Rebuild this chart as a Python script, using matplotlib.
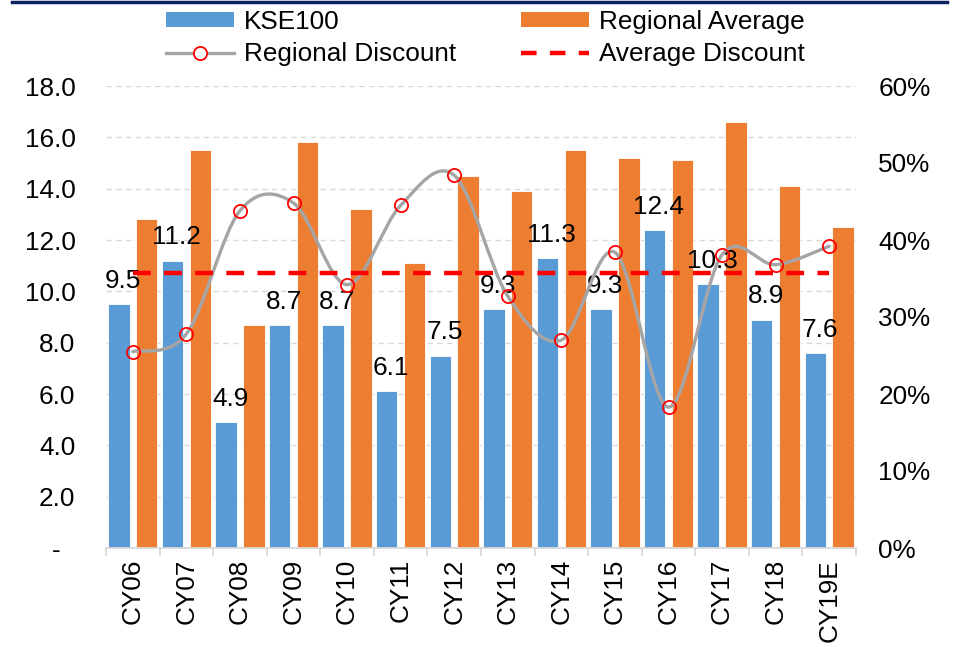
import numpy as np
import matplotlib
matplotlib.use('Agg')
import matplotlib.pyplot as plt
from matplotlib.path import Path
from matplotlib.patches import PathPatch, Patch
from matplotlib.lines import Line2D

plt.rcParams['font.family'] = ['Liberation Sans', 'DejaVu Sans']

# data
categories = ['CY06', 'CY07', 'CY08', 'CY09', 'CY10', 'CY11', 'CY12',
              'CY13', 'CY14', 'CY15', 'CY16', 'CY17', 'CY18', 'CY19E']
kse100 = [9.5, 11.2, 4.9, 8.7, 8.7, 6.1, 7.5, 9.3, 11.3, 9.3, 12.4, 10.3, 8.9, 7.6]
regional_avg = [12.8, 15.5, 8.7, 15.8, 13.2, 11.1, 14.5, 13.9, 15.5, 15.2, 15.1, 16.6, 14.1, 12.5]
regional_discount = [25.5, 27.8, 43.8, 44.8, 34.2, 44.5, 48.4, 32.7, 27.0, 38.4, 18.3, 38.1, 36.8, 39.2]  # %
left_ticks = [0, 2, 4, 6, 8, 10, 12, 14, 16, 18]
right_ticks = [0, 10, 20, 30, 40, 50, 60]

BLUE = '#5B9BD5'
ORANGE = '#ED7D31'
GREY = '#A5A5A5'
RED = '#FF0000'
GRID = '#D9D9D9'
FS = 18.8

x = np.arange(len(categories))
avg_discount = np.mean(regional_discount)


def smooth_path(xs, ys):
    # excel-style smoothed line: cubic bezier segments, catmull-rom control points
    pts = np.column_stack([xs, ys]).astype(float)
    n = len(pts)
    verts = [pts[0]]
    codes = [Path.MOVETO]
    for i in range(n - 1):
        p0 = pts[max(i - 1, 0)]
        p1 = pts[i]
        p2 = pts[i + 1]
        p3 = pts[min(i + 2, n - 1)]
        verts += [p1 + (p2 - p0) / 6.0, p2 - (p3 - p1) / 6.0, p2]
        codes += [Path.CURVE4] * 3
    return Path(verts, codes)


fig = plt.figure(figsize=(9.55, 6.47), dpi=100)
ax = fig.add_axes([106 / 955, 1 - 548 / 647, 750 / 955, 462 / 647])

w = 0.40
ax.bar(x - 0.26, kse100, w, color=BLUE, edgecolor='white', linewidth=0.6, zorder=2)
ax.bar(x + 0.26, regional_avg, w, color=ORANGE, edgecolor='white', linewidth=0.6, zorder=2)

for i, v in enumerate(kse100):
    ax.annotate(f'{v:.1f}', (x[i] - 0.26, v), xytext=(3, 8), textcoords='offset points',
                ha='center', va='bottom', fontsize=FS, color='black', zorder=3)

ax.set_xlim(-0.5, len(categories) - 0.5)
ax.set_ylim(0, 18)
ax.set_yticks(left_ticks)
ax.set_yticklabels(['-  ' if t == 0 else f'{t:.1f}' for t in left_ticks])
ax.yaxis.grid(True, color=GRID, linestyle=(0, (4, 3)), linewidth=1.0, zorder=0)
ax.set_axisbelow(True)
ax.tick_params(axis='y', length=0, pad=22, labelsize=FS)

ax.set_xticks(x)
ax.set_xticklabels(categories, rotation=90)
ax.set_xticks(np.arange(-0.5, len(categories)), minor=True)
ax.tick_params(axis='x', which='major', length=0, pad=8, labelsize=FS)
ax.tick_params(axis='x', which='minor', length=5.5, width=1.3, color=GRID)

for s in ['top', 'right', 'left']:
    ax.spines[s].set_visible(False)
ax.spines['bottom'].set_color(GRID)
ax.spines['bottom'].set_linewidth(1.3)

# secondary axis for the discount
ax2 = ax.twinx()
ax2.set_ylim(0, 60)
ax2.set_yticks(right_ticks)
ax2.set_yticklabels([f'{t}%' for t in right_ticks])
ax2.tick_params(axis='y', length=0, pad=16, labelsize=FS)
for s in ax2.spines.values():
    s.set_visible(False)

ax2.add_patch(PathPatch(smooth_path(x, regional_discount), facecolor='none',
                        edgecolor=GREY, linewidth=2.4, capstyle='round', zorder=3))
ax2.plot(x, [avg_discount] * len(x), color=RED, linewidth=3.2, linestyle=(0, (4, 3)), zorder=4)
ax2.plot(x, regional_discount, linestyle='none', marker='o', markersize=9.5,
         markerfacecolor='none', markeredgecolor=RED, markeredgewidth=1.3, zorder=5)

handles = [
    Patch(facecolor=BLUE),
    Line2D([], [], color=GREY, linewidth=2.4, marker='o', markersize=9.5,
           markerfacecolor='white', markeredgecolor=RED, markeredgewidth=1.3),
    Patch(facecolor=ORANGE),
    Line2D([], [], color=RED, linewidth=3.2, linestyle=(0, (3.5, 3))),
]
labels = ['KSE100', 'Regional Discount', 'Regional Average', 'Average Discount']
fig.legend(handles, labels, ncol=2, loc='upper center', bbox_to_anchor=(0.508, 0.985),
           frameon=False, fontsize=FS, handlelength=2.6, handleheight=0.55,
           handletextpad=0.38, columnspacing=2.5, labelspacing=0.32,
           borderpad=0, borderaxespad=0)

# dark rule along the top edge
fig.add_artist(Line2D([12 / 955, 947 / 955], [1 - 1.5 / 647, 1 - 1.5 / 647],
                      color='#0B2161', linewidth=2.5, transform=fig.transFigure))

fig.savefig('out.png', dpi=100)
